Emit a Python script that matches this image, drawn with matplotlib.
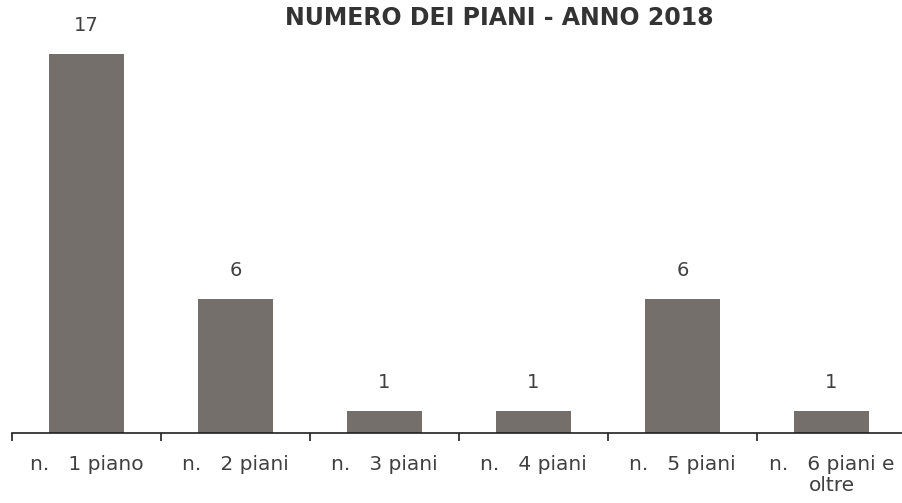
import matplotlib
matplotlib.use("Agg")
import matplotlib.pyplot as plt
import numpy as np

categories = ["n.   1 piano", "n.   2 piani", "n.   3 piani", "n.   4 piani", "n.   5 piani", "n.   6 piani e\noltre"]
values = [17, 6, 1, 1, 6, 1]
title = "NUMERO DEI PIANI - ANNO 2018"

W, H = 902, 503
fig = plt.figure(figsize=(W / 100, H / 100), dpi=100)
ax_left, ax_right = 12, 906
ax_bottom, ax_top = 433, 40
ax = fig.add_axes([ax_left / W, (H - ax_bottom) / H, (ax_right - ax_left) / W, (ax_bottom - ax_top) / H])

x = np.arange(len(categories))
ax.bar(x, values, width=0.51, color="#756f6c", zorder=2)
ax.set_xlim(-0.5, len(categories) - 0.5)
ax.set_ylim(0, (ax_bottom - ax_top) / 22.3)

for xi, v in zip(x, values):
    ax.annotate(str(v), (xi, v), xytext=(0, 20.5), textcoords="offset points",
                ha="center", va="center", fontsize=14, color="#404040")

for s in ["top", "left", "right"]:
    ax.spines[s].set_visible(False)
ax.spines["bottom"].set_color("#202020")
ax.spines["bottom"].set_linewidth(1.2)
ax.set_yticks([])

ax.set_xticks(np.arange(-0.5, len(categories)), minor=False)
ax.set_xticklabels([""] * (len(categories) + 1))
ax.tick_params(axis="x", which="major", length=6, width=1.2, color="#202020", direction="out")
ax.set_xticks(x, minor=True)
ax.set_xticklabels(categories, minor=True, fontsize=14.5, color="#404040", linespacing=1.1)
ax.tick_params(axis="x", which="minor", length=0, pad=16)

fig.text(499 / W, 1 - 18 / H, title, ha="center", va="center", fontsize=17, fontweight="bold", color="#333333")

fig.savefig("out.png", dpi=100)
